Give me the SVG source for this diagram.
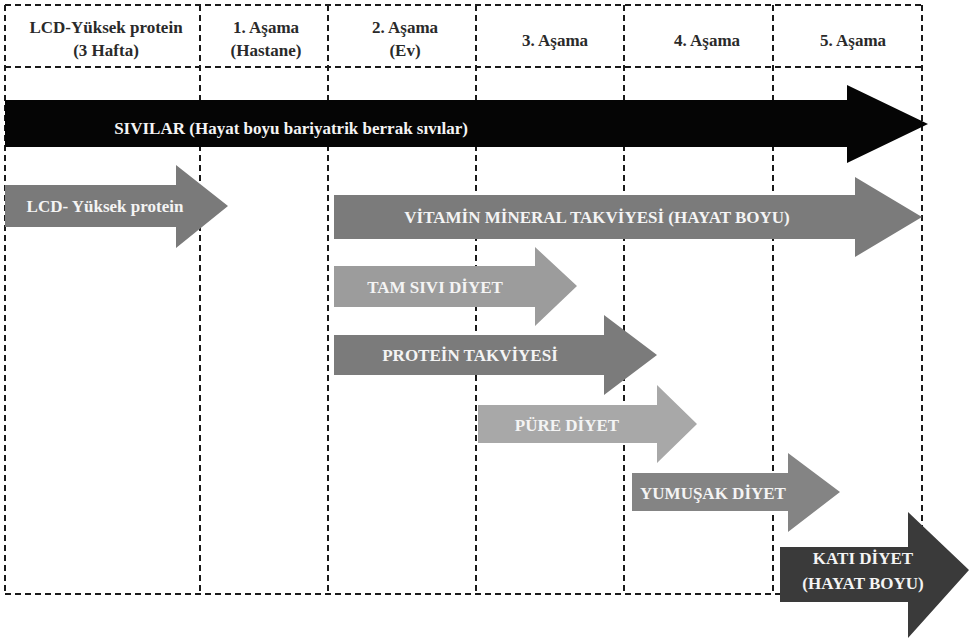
<svg xmlns="http://www.w3.org/2000/svg" width="969" height="639" viewBox="0 0 969 639">
<style>
.g{stroke:#1a1a1a;stroke-width:2;stroke-dasharray:6 4;fill:none}
.h{font-family:"Liberation Serif","Times New Roman",serif;font-weight:bold;font-size:17px;fill:#2a2a2a;text-anchor:middle}
.t{font-family:"Liberation Serif","Times New Roman",serif;font-weight:bold;font-size:17px;fill:#f4f4f4;text-anchor:middle}
</style>
<rect width="969" height="639" fill="#fff"/>
<g id="grid">
<line class="g" x1="5" y1="5" x2="922" y2="5"/>
<line class="g" x1="5" y1="67" x2="922" y2="67"/>
<line class="g" x1="5" y1="594" x2="780" y2="594"/>
<line class="g" x1="5" y1="5" x2="5" y2="594"/>
<line class="g" x1="200" y1="5" x2="200" y2="594"/>
<line class="g" x1="328" y1="5" x2="328" y2="594"/>
<line class="g" x1="476" y1="5" x2="476" y2="594"/>
<line class="g" x1="624" y1="5" x2="624" y2="594"/>
<line class="g" x1="773" y1="5" x2="773" y2="594"/>
<line class="g" x1="922" y1="5" x2="922" y2="594"/>
</g>
<g id="headers">
<text class="h" x="106" y="33">LCD-Yüksek protein</text>
<text class="h" x="106" y="56">(3 Hafta)</text>
<text class="h" x="266" y="33">1. Aşama</text>
<text class="h" x="266" y="56">(Hastane)</text>
<text class="h" x="405" y="33">2. Aşama</text>
<text class="h" x="405" y="56">(Ev)</text>
<text class="h" x="555" y="46">3. Aşama</text>
<text class="h" x="707" y="46">4. Aşama</text>
<text class="h" x="853" y="46">5. Aşama</text>
</g>
<g id="sivilar">
<polygon points="5,100 847,100 847,85 928,124 847,163 847,147 5,147" fill="#050505"/>
<text class="t" x="291" y="134">SIVILAR (Hayat boyu bariyatrik berrak sıvılar)</text>
</g>
<g id="lcd">
<polygon points="5,185 176,185 176,165 228,206 176,248 176,227 5,227" fill="#7a7a7a"/>
<text class="t" x="105" y="212">LCD- Yüksek protein</text>
</g>
<g id="vitamin">
<polygon points="334,195 855,195 855,177 922,217 855,257 855,239 334,239" fill="#7b7b7b"/>
<text class="t" x="597" y="223">VİTAMİN MİNERAL TAKVİYESİ (HAYAT BOYU)</text>
</g>
<g id="tamsivi">
<polygon points="334,266 535,266 535,247 577,286 535,326 535,307 334,307" fill="#9c9c9c"/>
<text class="t" x="435" y="293">TAM SIVI DİYET</text>
</g>
<g id="protein">
<polygon points="334,335 604,335 604,315 657,355 604,395 604,375 334,375" fill="#7b7b7b"/>
<text class="t" x="470" y="361">PROTEİN TAKVİYESİ</text>
</g>
<g id="pure">
<polygon points="478,405 657,405 657,385 697,424 657,463 657,443 478,443" fill="#a8a8a8"/>
<text class="t" x="567" y="431">PÜRE DİYET</text>
</g>
<g id="yumusak">
<polygon points="632,473 788,473 788,453 840,492 788,532 788,511 632,511" fill="#848484"/>
<text class="t" x="713" y="499">YUMUŞAK DİYET</text>
</g>
<g id="kati">
<polygon points="780,547 908,547 908,512 969,570 908,638 908,602 780,602" fill="#3a3a3a"/>
<text class="t" x="863" y="564">KATI DİYET</text>
<text class="t" x="863" y="589">(HAYAT BOYU)</text>
</g>
</svg>
